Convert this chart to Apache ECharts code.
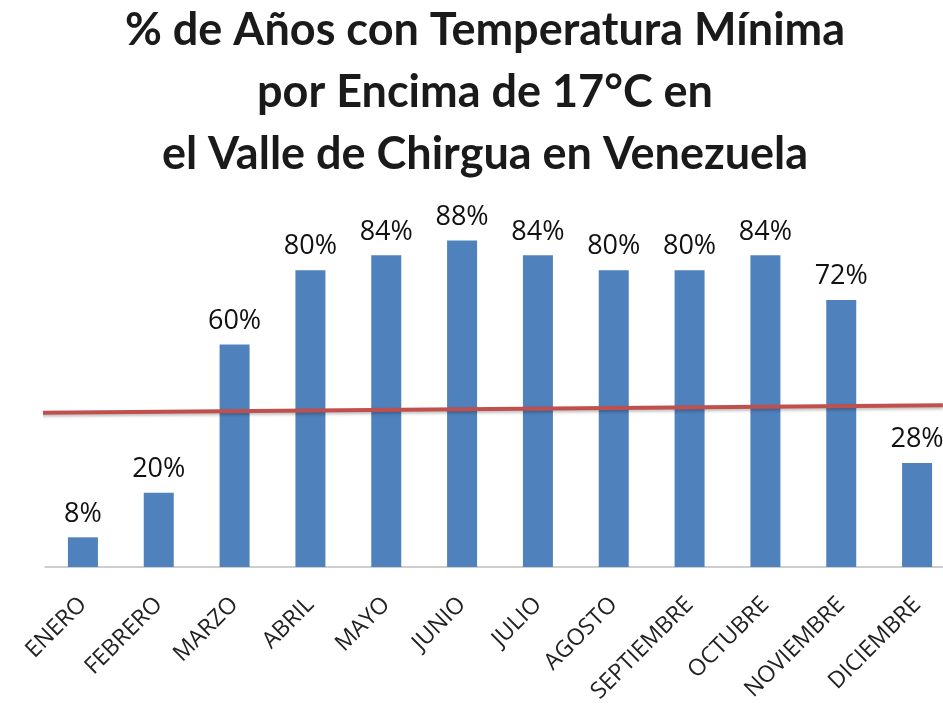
<!DOCTYPE html>
<html style="height: 100%">
<head>
    <meta charset="utf-8">
</head>
<body style="height: 100%; margin: 0; background: #fff; overflow: hidden">
<div id="container" style="height: 100%; width: 955px"></div>
<script type="text/javascript" src="https://cdn.jsdelivr.net/npm/echarts@6/dist/echarts.min.js"></script>
<script type="text/javascript">
// meses
var months = ['ENERO', 'FEBRERO', 'MARZO', 'ABRIL', 'MAYO', 'JUNIO', 'JULIO',
    'AGOSTO', 'SEPTIEMBRE', 'OCTUBRE', 'NOVIEMBRE', 'DICIEMBRE'];
// % de años con Tmin > 17°C
var pct = [8, 20, 60, 80, 84, 88, 84, 80, 80, 84, 72, 28];
// línea roja (x en unidades de categoría, y en %)
var refLine = [[-0.4, 41.5], [11.84, 43.6]];

var titleText = '% de Años con Temperatura Mínima\npor Encima de 17°C en\nel Valle de Chirgua en Venezuela';

var myChart = echarts.init(document.getElementById('container'));
var option = {
    backgroundColor: '#ffffff',
    animation: false,
    title: {
        text: titleText,
        left: 480,
        top: -6,
        textAlign: 'center',
        textStyle: {
            fontFamily: 'Lato',
            fontWeight: 'bold',
            fontSize: 45,
            lineHeight: 62,
            color: '#1a1a1a'
        }
    },
    grid: {
        left: 45,
        right: 0,
        top: 196,
        bottom: 147
    },
    xAxis: [{
        type: 'category',
        data: months,
        boundaryGap: true,
        axisTick: { show: false },
        axisLine: { lineStyle: { color: '#bfbfbf', width: 1.5 } },
        axisLabel: {
            rotate: 45,
            interval: 0,
            margin: 34,
            fontFamily: 'Open Sans',
            fontSize: 23,
            color: '#222'
        }
    }, {
        type: 'value',
        min: 0,
        max: 12,
        show: false
    }],
    yAxis: {
        type: 'value',
        min: 0,
        max: 100,
        show: false,
        splitLine: { show: false }
    },
    series: [{
        type: 'bar',
        data: pct,
        barWidth: 30,
        itemStyle: { color: '#4F81BD' },
        label: {
            show: true,
            position: 'top',
            distance: 10,
            formatter: '{c}%',
            fontFamily: 'Open Sans',
            fontSize: 27,
            color: '#111'
        }
    }, {
        type: 'line',
        xAxisIndex: 1,
        data: refLine,
        clip: false,
        symbol: 'none',
        silent: true,
        lineStyle: {
            color: '#C0504D',
            width: 4,
            shadowColor: 'rgba(0,0,0,0.25)',
            shadowBlur: 3,
            shadowOffsetY: 2
        }
    }]
};
myChart.setOption(option);
window.onresize = function () {
    myChart.resize();
};
</script>
</body>
</html>
